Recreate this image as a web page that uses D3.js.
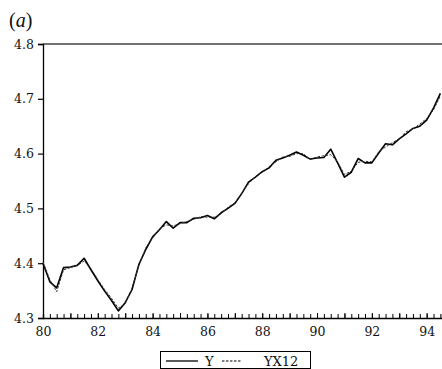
<!DOCTYPE html>
<html>
<head>
<meta charset="utf-8">
<script src="https://cdn.jsdelivr.net/npm/d3@7"></script>
<style>
  html, body { margin: 0; padding: 0; background: #fff; }
  svg { display: block; }
  text { font-family: "DejaVu Serif", "Liberation Serif", serif; fill: #111; }
</style>
</head>
<body>
<svg id="chart" width="442" height="369"></svg>
<script>
// ---- data (quarterly, 1980Q1 .. 1994Q3) ----
const startYear = 80;
const seriesY = [
  4.400, 4.366, 4.355, 4.392, 4.393, 4.396, 4.409, 4.388, 4.368, 4.349,
  4.332, 4.313, 4.328, 4.352, 4.398, 4.425, 4.448, 4.461, 4.476, 4.464,
  4.474, 4.474, 4.482, 4.483, 4.487, 4.481, 4.492, 4.500, 4.509, 4.527,
  4.548, 4.557, 4.567, 4.574, 4.588, 4.592, 4.597, 4.603, 4.597, 4.590,
  4.592, 4.593, 4.608, 4.583, 4.557, 4.566, 4.591, 4.583, 4.583, 4.601,
  4.618, 4.616, 4.627, 4.636, 4.646, 4.650, 4.661, 4.683, 4.710
];
const seriesYX12 = [
  4.402, 4.370, 4.348, 4.388, 4.392, 4.396, 4.404, 4.390, 4.370, 4.352,
  4.336, 4.318, 4.326, 4.355, 4.396, 4.428, 4.446, 4.463, 4.470, 4.468,
  4.472, 4.476, 4.480, 4.485, 4.484, 4.484, 4.490, 4.502, 4.510, 4.528,
  4.545, 4.558, 4.566, 4.576, 4.585, 4.594, 4.595, 4.600, 4.600, 4.589,
  4.594, 4.596, 4.598, 4.585, 4.562, 4.568, 4.584, 4.586, 4.585, 4.603,
  4.612, 4.620, 4.627, 4.640, 4.645, 4.654, 4.664, 4.680, 4.705
];
const yTicks = [4.3, 4.4, 4.5, 4.6, 4.7, 4.8];
const xTickLabels = [80, 82, 84, 86, 88, 90, 92, 94];
const legendLabels = ["Y", "YX12"];

// ---- layout ----
const svg = d3.select("#chart");
const mLeft = 43, mRight = 442, mTop = 44, mBottom = 318;

const x = d3.scaleLinear().domain([80, 94.56]).range([mLeft, mRight]);
const y = d3.scaleLinear().domain([4.3, 4.8]).range([mBottom, mTop]);

const tOf = i => startYear + i / 4;

// top border
svg.append("line")
  .attr("x1", mLeft).attr("x2", mRight).attr("y1", y(4.8)).attr("y2", y(4.8))
  .attr("stroke", "#444").attr("stroke-width", 1.5);

// y axis
const yAxis = d3.axisLeft(y).tickValues(yTicks).tickSize(5).tickFormat(d3.format(".1f"));
const gy = svg.append("g").attr("transform", `translate(${mLeft},0)`).call(yAxis);
gy.select(".domain").attr("stroke", "#000").attr("stroke-width", 1.3);
gy.selectAll(".tick line").attr("stroke", "#000").attr("stroke-width", 1.2);
gy.selectAll(".tick text").attr("font-size", 12.5).attr("x", -9)
  .style("font-family", "'DejaVu Serif', serif").style("fill", "#111");

// x axis: quarterly minor ticks pointing inward, labels every 2 years
const quarterTicks = d3.range(0, 59).map(tOf);
const xMinor = d3.axisBottom(x).tickValues(quarterTicks).tickSize(-4).tickFormat("");
const gxm = svg.append("g").attr("transform", `translate(0,${mBottom})`).call(xMinor);
gxm.select(".domain").attr("stroke", "#000").attr("stroke-width", 1.3);
gxm.selectAll(".tick line").attr("stroke", "#000").attr("stroke-width", 1);

const yearTicks = d3.range(80, 95);
const xMajor = d3.axisBottom(x).tickValues(yearTicks).tickSize(-5)
  .tickFormat(d => xTickLabels.includes(d) ? d : "");
const gx = svg.append("g").attr("transform", `translate(0,${mBottom})`).call(xMajor);
gx.select(".domain").remove();
gx.selectAll(".tick line").attr("stroke", "#000").attr("stroke-width", 1);
gx.selectAll(".tick text").attr("font-size", 12.5).attr("y", 9)
  .style("font-family", "'DejaVu Serif', serif").style("fill", "#111");

// lines
const line = d3.line().x((d, i) => x(tOf(i))).y(d => y(d));
svg.append("path").datum(seriesY).attr("d", line)
  .attr("fill", "none").attr("stroke", "#000").attr("stroke-width", 1.6)
  .attr("stroke-linejoin", "round");
svg.append("path").datum(seriesYX12).attr("d", line)
  .attr("fill", "none").attr("stroke", "#333").attr("stroke-width", 1)
  .attr("stroke-dasharray", "2.5,1.5");

// panel label
const pl = svg.append("text").attr("x", 9).attr("y", 27).attr("font-size", 20)
  .style("font-family", "'Liberation Serif', serif");
pl.append("tspan").text("(");
pl.append("tspan").attr("font-style", "italic").text("a");
pl.append("tspan").text(")");

// legend
const lg = svg.append("g");
lg.append("rect").attr("x", 160.5).attr("y", 351.5).attr("width", 150).attr("height", 17)
  .attr("fill", "#fff").attr("stroke", "#000").attr("stroke-width", 1);
lg.append("line").attr("x1", 166).attr("x2", 198).attr("y1", 361).attr("y2", 361)
  .attr("stroke", "#000").attr("stroke-width", 1.3);
lg.append("text").attr("x", 205).attr("y", 366).attr("font-size", 13).text(legendLabels[0]);
lg.append("line").attr("x1", 222).attr("x2", 242).attr("y1", 361).attr("y2", 361)
  .attr("stroke", "#000").attr("stroke-width", 1).attr("stroke-dasharray", "2.5,1.5");
lg.append("text").attr("x", 264).attr("y", 366).attr("font-size", 13).text(legendLabels[1]);
</script>
</body>
</html>
